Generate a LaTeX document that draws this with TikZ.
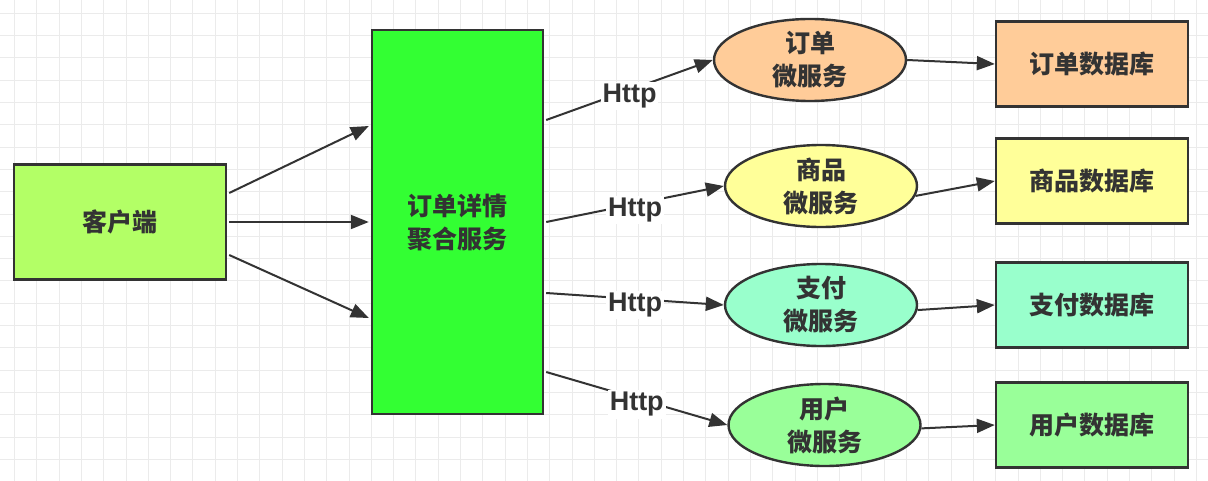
\documentclass[tikz,border=0pt]{standalone}
\usepackage{fontspec}
\setmainfont{Liberation Sans}
\newfontfamily\cjk{Noto Sans CJK SC}
\usetikzlibrary{shapes.geometric, arrows.meta, positioning}
\definecolor{linec}{HTML}{333333}
\definecolor{gridc}{HTML}{EBEBEB}
\definecolor{clientc}{HTML}{B3FF66}
\definecolor{aggc}{HTML}{33FF33}
\definecolor{orderc}{HTML}{FFCC99}
\definecolor{goodsc}{HTML}{FFFF99}
\definecolor{payc}{HTML}{99FFCC}
\definecolor{userc}{HTML}{99FF99}
\tikzstyle{gridline}=[gridc,line width=0.5pt]
\tikzstyle{box}=[draw=linec,line width=1.2pt,align=center,text=linec,font=\cjk\bfseries\fontsize{12.5}{16.5}\selectfont]
\tikzstyle{svc}=[box,ellipse,minimum width=96pt,minimum height=41pt,inner sep=0pt]
\tikzstyle{db}=[box,minimum width=96pt,minimum height=42.5pt]
\tikzstyle{arr}=[linec,line width=1pt,-{Triangle[length=9pt,width=7pt]}]
\tikzstyle{proto}=[fill=white,inner sep=1pt,text=linec,yshift=-3pt,font=\bfseries\fontsize{13.5}{16}\selectfont]

\begin{document}
\begin{tikzpicture}[x=0.5pt,y=-0.5pt]
    \useasboundingbox (0,0) rectangle (1208,481);
    \fill[white] (0,0) rectangle (1208,481);
    % background grid
    \foreach \g in {0,...,53} \draw[gridline] (14.5+22.3*\g,0) -- ++(0,481);
    \foreach \g in {0,...,21} \draw[gridline] (0,13.3+22.3*\g) -- ++(1208,0);
    \node[box,fill=clientc,minimum width=106pt,minimum height=57.5pt] (client) at (120,222) {客户端};
    \node[box,fill=aggc,minimum width=85.5pt,minimum height=192pt] (agg) at (457.5,222) {订单详情\\聚合服务};
    \foreach \n/\t/\c/\xs/\ys/\yd in {order/订单/orderc/810/60/64, goods/商品/goodsc/821/186/181, pay/支付/payc/821/305/305, user/用户/userc/824.5/425/425} {
        \node[svc,fill=\c] (\n svc) at (\xs,\ys) {\t\\微服务};
        \node[db,fill=\c] (\n db) at (1092,\yd) {\t 数据库};}
    % client to aggregation
    \foreach \a/\b in {14.5/48, 0/0, -16.5/-48}
        \draw[arr] ([xshift=1pt,yshift=\a pt]client.east) -- ([xshift=-1pt,yshift=\b pt]agg.west);
    % http calls
    \foreach \n/\a in {order/51, goods/0, pay/-35.5, user/-75}
        \draw[arr] ([xshift=1pt,yshift=\a pt]agg.east) -- (\n svc.west) node[proto,pos=0.5] {Http};
    % services to databases
    \foreach \n/\ang in {order/0, goods/-6, pay/-3, user/-2}
        \draw[arr] (\n svc.\ang) -- (\n db.west);
\end{tikzpicture}
\end{document}
